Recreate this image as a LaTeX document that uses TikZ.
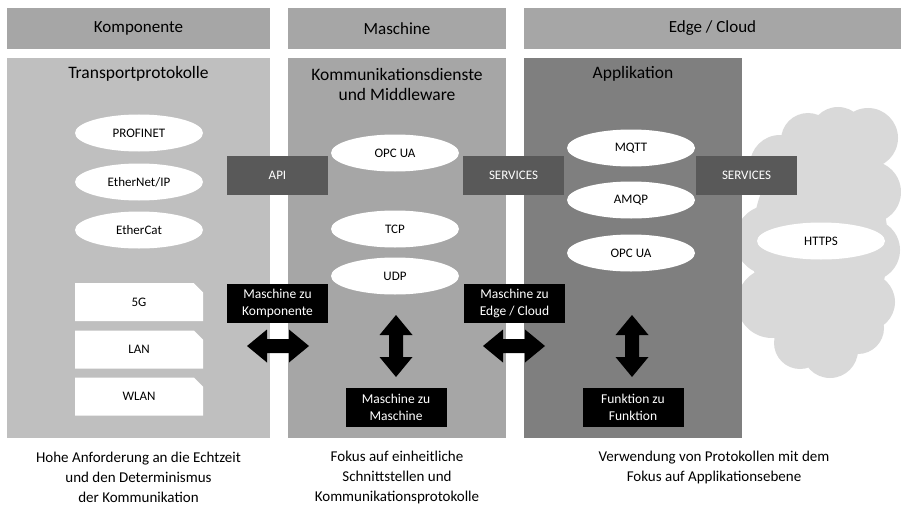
\documentclass[tikz,border=0pt]{standalone}
\usepackage{fontspec}
\setmainfont{Carlito}
\usetikzlibrary{shapes.misc,shapes.geometric}
\definecolor{hdr}{HTML}{A6A6A6}
\definecolor{colA}{HTML}{BFBFBF}
\definecolor{colB}{HTML}{A6A6A6}
\definecolor{colC}{HTML}{7F7F7F}
\definecolor{darkbox}{HTML}{595959}
\definecolor{cloudgray}{HTML}{D9D9D9}
\tikzset{
  header/.style={fill=hdr, minimum height=41pt, inner sep=0pt, font=\fontsize{17}{19}\selectfont},
  column/.style={minimum height=380pt, inner sep=0pt},
  coltitle/.style={align=center, inner sep=0pt, font=\fontsize{17.5}{20}\selectfont},
  ell/.style={ellipse, fill=white, minimum width=128pt, minimum height=37pt, inner sep=0pt, font=\fontsize{13}{15}\selectfont},
  snipbox/.style={chamfered rectangle, chamfered rectangle corners=north east, chamfered rectangle xsep=5pt, chamfered rectangle ysep=5pt, fill=white, minimum width=128pt, minimum height=38pt, inner sep=0pt, font=\fontsize{13}{15}\selectfont},
  iface/.style={fill=darkbox, text=white, minimum width=101pt, minimum height=39pt, inner sep=0pt, font=\fontsize{13}{15}\selectfont},
  blackbox/.style={fill=black, text=white, align=center, minimum width=101pt, minimum height=39pt, inner sep=0pt, font=\fontsize{13.5}{17}\selectfont},
  note/.style={align=center, inner sep=0pt, font=\fontsize{15}{20}\selectfont},
  harrow/.pic={\fill[black] (-31,0) -- (-11,-16.5) -- (-11,-7) -- (11,-7) -- (11,-16.5) -- (31,0) -- (11,16.5) -- (11,7) -- (-11,7) -- (-11,16.5) -- cycle;}
}
\begin{document}
\begin{tikzpicture}[x=1pt,y=-1pt]
\useasboundingbox (0,0) rectangle (901,508);
% cloud (behind), drawn as a union of puffs
\fill[cloudgray]
  (780,165) circle[radius=30]
  (808,140) circle[radius=27]
  (838,135) circle[radius=28]
  (868,138) circle[radius=30]
  (870,192) circle[radius=31]
  (770,240) circle[radius=35]
  (869,250) circle[radius=31]
  (866,302) circle[radius=29]
  (772,303) circle[radius=35]
  (800,343) circle[radius=26]
  (830,350) circle[radius=28]
  (858,328) circle[radius=26]
  (820,245) ellipse[x radius=68, y radius=105];
% headers
\node[header, minimum width=263pt] (hK) at (138.5,28.5) {Komponente};
\node[header, minimum width=218pt] (hM) at (397,28.5) {Maschine};
\node[header, minimum width=377pt] (hE) at (712.5,28.5) {Edge / Cloud};
% columns
\node[column, fill=colA, minimum width=263pt] (cK) at (138.5,248) {};
\node[column, fill=colB, minimum width=218pt] (cM) at (397,248) {};
\node[column, fill=colC, minimum width=218pt] (cA) at (633,248) {};
% column titles
\node[coltitle] (tK) at (138.5,74) {Transportprotokolle};
\node[coltitle] (tM) at (397,84) {Kommunikationsdienste\\und Middleware};
\node[coltitle] (tA) at (633,74) {Applikation};
% left column
\node[ell] (profinet) at (139,133) {PROFINET};
\node[ell] (ethip) at (139,182) {EtherNet/IP};
\node[ell] (ethcat) at (139,230) {EtherCat};
\node[snipbox] (g5) at (139,302) {5G};
\node[snipbox] (lan) at (139,349.5) {LAN};
\node[snipbox] (wlan) at (139,396.5) {WLAN};
% middle column
\node[ell] (opcM) at (395,153) {OPC UA};
\node[ell] (tcp) at (395,229) {TCP};
\node[ell] (udp) at (395,276) {UDP};
% right column
\node[ell] (mqtt) at (631,148) {MQTT};
\node[ell] (amqp) at (631,200) {AMQP};
\node[ell] (opcA) at (631,253) {OPC UA};
\node[ell] (https) at (821,241) {HTTPS};
% interface boxes
\node[iface] (api) at (277.5,175.5) {API};
\node[iface] (srv1) at (513.5,175.5) {SERVICES};
\node[iface] (srv2) at (746.5,175.5) {SERVICES};
% black labels
\node[blackbox] (mzk) at (277.5,303.5) {Maschine zu\\Komponente};
\node[blackbox] (mze) at (514.5,303.5) {Maschine zu\\Edge / Cloud};
\node[blackbox] (mzm) at (396,407.5) {Maschine zu\\Maschine};
\node[blackbox] (fzf) at (633,407.5) {Funktion zu\\Funktion};
% block arrows
\pic (arrK) at (278,346) {harrow};
\pic (arrE) at (514,346) {harrow};
\pic[rotate=90] (arrM) at (396,346) {harrow};
\pic[rotate=90] (arrF) at (632,346) {harrow};
% notes
\node[note] (nK) at (138.5,477) {Hohe Anforderung an die Echtzeit\\und den Determinismus\\der Kommunikation};
\node[note] (nM) at (397,477) {Fokus auf einheitliche\\Schnittstellen und\\Kommunikationsprotokolle};
\node[note] (nE) at (714,467) {Verwendung von Protokollen mit dem\\Fokus auf Applikationsebene};
\end{tikzpicture}
\end{document}
